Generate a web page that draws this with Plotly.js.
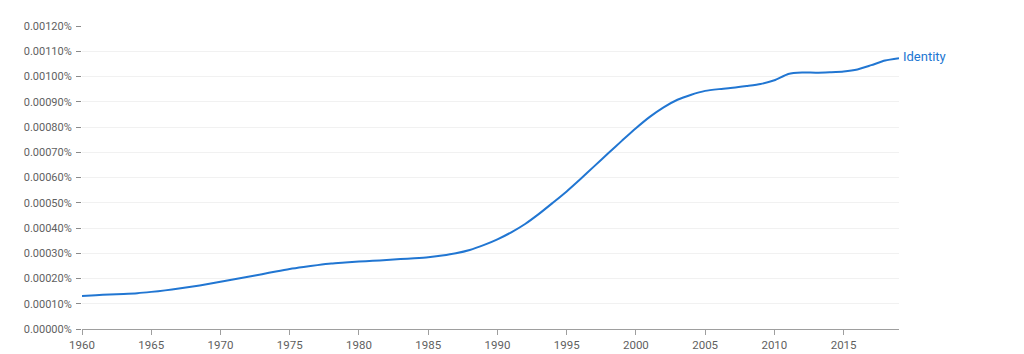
<!DOCTYPE html>
<html>
<head>
<meta charset="utf-8">
<script src="https://cdn.plot.ly/plotly-3.0.1.min.js"></script>
<style>html,body{margin:0;padding:0;background:#fff;}#chart{width:1024px;height:354px;}</style>
</head>
<body>
<div id="chart"></div>
<script>
const years = [];
for (let y = 1960; y <= 2019; y++) years.push(y);
const seriesName = "Identity";
const identityPct = [
  0.000131, 0.000134, 0.000137, 0.000139, 0.000142,
  0.000147, 0.000153, 0.000160, 0.000168, 0.000177,
  0.000187, 0.000197, 0.000207, 0.000217, 0.000228,
  0.000238, 0.000246, 0.000253, 0.000259, 0.000263,
  0.000267, 0.000270, 0.000273, 0.000277, 0.000280,
  0.000284, 0.000291, 0.000300, 0.000313, 0.000332,
  0.000355, 0.000383, 0.000416, 0.000456, 0.000500,
  0.000545, 0.000594, 0.000645, 0.000696, 0.000746,
  0.000795, 0.000840, 0.000878, 0.000908, 0.000928,
  0.000943, 0.000950, 0.000955, 0.000962, 0.000970,
  0.000985, 0.001010, 0.001016, 0.001015, 0.001017,
  0.001020, 0.001028, 0.001045, 0.001063, 0.001072
];
const xTicks = [1960, 1965, 1970, 1975, 1980, 1985, 1990, 1995, 2000, 2005, 2010, 2015];
const yTicks = [0, 0.0001, 0.0002, 0.0003, 0.0004, 0.0005, 0.0006, 0.0007, 0.0008, 0.0009, 0.0010, 0.0011, 0.0012];

const lineColor = "#2176d2";
const trace = {
  x: years, y: identityPct, type: "scatter", mode: "lines",
  line: {color: lineColor, width: 2, shape: "spline", smoothing: 0.6},
  hoverinfo: "skip", showlegend: false
};
const layout = {
  width: 1024, height: 354,
  margin: {l: 82, r: 125, t: 26, b: 25, pad: 0},
  paper_bgcolor: "#fff", plot_bgcolor: "#fff",
  font: {family: "Roboto, sans-serif", size: 11, color: "#666666"},
  xaxis: {
    range: [1960, 2019], tickvals: xTicks, ticktext: xTicks.map(String),
    showgrid: false, zeroline: false,
    showline: true, linecolor: "#9e9e9e", linewidth: 1,
    ticks: "outside", ticklen: 5, tickcolor: "#9e9e9e",
    tickfont: {family: "Roboto, sans-serif", size: 11.5, color: "#5f5f5f"}
  },
  yaxis: {
    range: [0, 0.0012], tickvals: yTicks,
    ticktext: yTicks.map(v => v.toFixed(5) + "%"),
    showgrid: true, gridcolor: "#f1f1f1", gridwidth: 1,
    zeroline: false, showline: false,
    ticks: "outside", ticklen: 5, tickcolor: "#8a8a8a", ticklabelstandoff: 2,
    tickfont: {family: "Roboto, sans-serif", size: 11, color: "#5f5f5f"}
  },
  annotations: [{
    x: years[years.length - 1], y: identityPct[identityPct.length - 1],
    xref: "x", yref: "y", text: seriesName, showarrow: false,
    xanchor: "left", yanchor: "middle", xshift: 2, yshift: 2,
    font: {family: "Roboto, sans-serif", size: 13, color: lineColor}
  }]
};
Plotly.newPlot("chart", [trace], layout, {staticPlot: true, displayModeBar: false});
</script>
</body>
</html>
